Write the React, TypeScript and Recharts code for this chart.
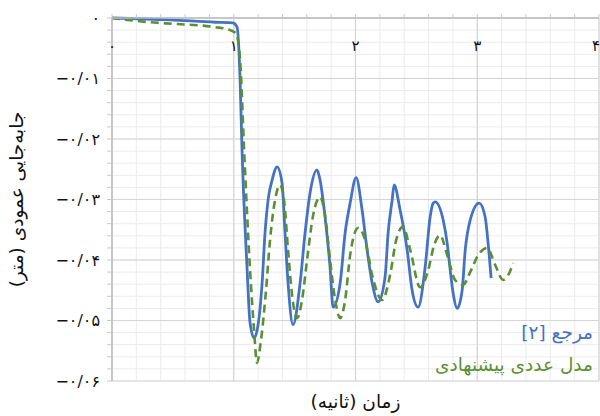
import { LineChart, Line, XAxis, YAxis, CartesianGrid } from "recharts";

// مرجع [۲]
const refTime = [
  0, 0.477, 0.846, 0.994, 1.027, 1.052, 1.068, 1.109, 1.134, 1.167, 1.2, 1.233, 1.257, 1.282,
  1.315, 1.356, 1.397, 1.421, 1.446, 1.487, 1.545, 1.586, 1.627, 1.684, 1.709, 1.75, 1.791,
  1.816, 1.874, 1.915, 1.956, 2.005, 2.054, 2.095, 2.137, 2.186, 2.243, 2.268, 2.301, 2.317,
  2.366, 2.424, 2.465, 2.514, 2.572, 2.613, 2.638, 2.654, 2.72, 2.753, 2.778, 2.802, 2.835,
  2.876, 2.901, 2.942, 3.016, 3.065, 3.089, 3.114,
];
const refDisp = [
  0, -0.0003, -0.0007, -0.0008, -0.0015, -0.0102, -0.0218, -0.0412, -0.0504, -0.0529, -0.0507,
  -0.0438, -0.0355, -0.0301, -0.0268, -0.0246, -0.0273, -0.0355, -0.0438, -0.0507, -0.0438,
  -0.0355, -0.0289, -0.0251, -0.0268, -0.0329, -0.0412, -0.0478, -0.0438, -0.0355, -0.0306,
  -0.0264, -0.0317, -0.0383, -0.0438, -0.0469, -0.0428, -0.0355, -0.0301, -0.0276, -0.0317,
  -0.0383, -0.0450, -0.0478, -0.0412, -0.0329, -0.0306, -0.0304, -0.0334, -0.0372, -0.0417,
  -0.0455, -0.048, -0.0450, -0.0384, -0.0334, -0.0306, -0.0329, -0.0372, -0.043,
];

// مدل عددی پیشنهادی
const modelTime = [
  0, 0.312, 0.534, 0.846, 0.97, 1.019, 1.052, 1.085, 1.134, 1.167, 1.191, 1.224, 1.265, 1.298,
  1.339, 1.38, 1.413, 1.446, 1.479, 1.52, 1.561, 1.602, 1.652, 1.709, 1.75, 1.791, 1.833, 1.874,
  1.915, 1.956, 2.021, 2.079, 2.137, 2.219, 2.284, 2.334, 2.391, 2.449, 2.531, 2.597, 2.646,
  2.695, 2.753, 2.818, 2.884, 2.942, 3.007, 3.081, 3.147, 3.213, 3.254, 3.295,
];
const modelDisp = [
  0, -0.0007, -0.001, -0.0015, -0.002, -0.0026, -0.0069, -0.0218, -0.0417, -0.0516, -0.057,
  -0.0532, -0.045, -0.0367, -0.0301, -0.0276, -0.0301, -0.0383, -0.0458, -0.0496, -0.0466,
  -0.04, -0.0326, -0.0296, -0.0326, -0.04, -0.0466, -0.0496, -0.0466, -0.0392, -0.0347,
  -0.0367, -0.0425, -0.0466, -0.0425, -0.0367, -0.0345, -0.0383, -0.0445, -0.0417, -0.0375,
  -0.0359, -0.0392, -0.0433, -0.0441, -0.042, -0.0392, -0.038, -0.0408, -0.0433, -0.0425,
  -0.0405,
];

const xMajor = [0, 1, 2, 3, 4];
const yMajor = [0, -0.01, -0.02, -0.03, -0.04, -0.05, -0.06];

const refData = refTime.map((t, i) => ({ t, d: refDisp[i] }));
const modelData = modelTime.map((t, i) => ({ t, d: modelDisp[i] }));

const xMinor = Array.from({ length: 21 }, (_, i) => i / 5);
const yMinor = Array.from({ length: 31 }, (_, i) => -i / 500);

const faDigits = "۰۱۲۳۴۵۶۷۸۹";
const fa = (s: string | number) => String(s).replace(/[0-9]/g, (c) => faDigits[+c]);

const FONT = "'DejaVu Sans', sans-serif";
const BLUE = "#4472c4";
const GREEN = "#5b8f36";

const yLabel = (v: number) => {
  const k = Math.round(-v * 500);
  if (k % 5 !== 0) return "";
  const n = k / 5;
  return n === 0 ? "۰" : "−۰/۰" + fa(n);
};

const XTick = (props: any) => {
  const { x, y, payload } = props;
  const v = payload.value;
  if (Math.abs(v - Math.round(v)) > 1e-6) return null;
  const last = Math.round(v) === xMajor[xMajor.length - 1];
  return (
    <text
      x={last ? x + 1 : x}
      y={y + 39}
      textAnchor={last ? "end" : "middle"}
      fontFamily={FONT}
      fontSize={15}
      fill="#111"
    >
      {fa(Math.round(v))}
    </text>
  );
};

export default function App() {
  return (
    <div style={{ position: "absolute", left: 0, top: 0, width: 600, height: 416, background: "#fff" }}>
      <LineChart width={600} height={416} margin={{ top: 17, right: 1, bottom: 0, left: 0 }}>
        <CartesianGrid stroke="#ebebeb" strokeWidth={1} verticalValues={xMinor} horizontalValues={yMinor} />
        <CartesianGrid stroke="#d4d4d4" strokeWidth={1.2} verticalValues={xMajor} horizontalValues={yMajor} />
        <XAxis
          dataKey="t"
          type="number"
          domain={[0, 4]}
          ticks={xMinor}
          interval={0}
          orientation="top"
          height={1}
          tickSize={4}
          tickLine={{ stroke: "#c8c8c8" }}
          axisLine={{ stroke: "#bdbdbd", strokeWidth: 1.5 }}
          tick={<XTick />}
          allowDataOverflow
        />
        <XAxis
          xAxisId="title"
          type="number"
          domain={[0, 4]}
          orientation="bottom"
          height={35}
          tick={false}
          tickLine={false}
          axisLine={false}
          label={{ value: "زمان (ثانیه)", position: "center", dy: 3, style: { fontFamily: FONT, fontSize: 18.5, fill: "#111" } }}
        />
        <YAxis
          type="number"
          domain={[-0.06, 0]}
          ticks={yMinor}
          interval={0}
          width={112}
          tickSize={5}
          tickMargin={7}
          tickFormatter={yLabel}
          tickLine={{ stroke: "#c8c8c8" }}
          axisLine={{ stroke: "#bdbdbd", strokeWidth: 1.5 }}
          tick={{ fontFamily: FONT, fontSize: 16, fill: "#111" }}
          label={{
            value: "جابه‌جایی عمودی (متر)",
            angle: -90,
            position: "insideLeft",
            offset: 16,
            style: { textAnchor: "middle", fontFamily: FONT, fontSize: 18.5, fill: "#111" },
          }}
        />
        <Line
          data={refData}
          dataKey="d"
          type="monotone"
          stroke={BLUE}
          strokeWidth={2.8}
          dot={false}
          isAnimationActive={false}
        />
        <Line
          data={modelData}
          dataKey="d"
          type="monotone"
          stroke={GREEN}
          strokeWidth={2.6}
          strokeDasharray="8 5"
          dot={false}
          isAnimationActive={false}
        />
      </LineChart>
      <div
        dir="rtl"
        style={{
          position: "absolute",
          right: 7,
          top: 317,
          fontFamily: FONT,
          fontSize: 18.5,
          lineHeight: "32px",
          textAlign: "right",
        }}
      >
        <div style={{ color: BLUE }}>مرجع [۲]</div>
        <div style={{ color: GREEN }}>مدل عددی پیشنهادی</div>
      </div>
    </div>
  );
}
